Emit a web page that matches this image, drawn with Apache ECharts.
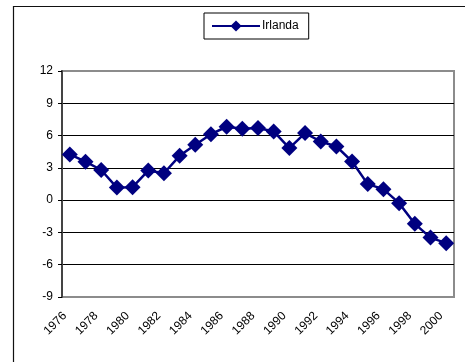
<!DOCTYPE html>
<html>
<head>
<meta charset="utf-8">
<script src="https://cdn.jsdelivr.net/npm/echarts@6/dist/echarts.min.js"></script>
<style>
  html, body { margin: 0; padding: 0; background: #fff; }
  #chart { width: 465px; height: 362px; }
</style>
</head>
<body>
<div id="chart"></div>
<script>
// Annual series for Ireland, 1976–2000
const years = ['1976','1977','1978','1979','1980','1981','1982','1983','1984','1985',
  '1986','1987','1988','1989','1990','1991','1992','1993','1994','1995',
  '1996','1997','1998','1999','2000'];
const irlanda = [4.25, 3.57, 2.8, 1.17, 1.2, 2.75, 2.5, 4.12, 5.14, 6.13,
  6.82, 6.63, 6.7, 6.38, 4.84, 6.23, 5.45, 4.99, 3.59, 1.49,
  1.02, -0.28, -2.2, -3.48, -4.0];
const seriesName = 'Irlanda';
const yMin = -9, yMax = 12, yStep = 3;

const chart = echarts.init(document.getElementById('chart'), null, { renderer: 'canvas' });
const font = 'Arial, "Liberation Sans", sans-serif';
const navy = '#000080';

chart.setOption({
  animation: false,
  backgroundColor: '#fff',
  graphic: [{
    type: 'rect',
    shape: { x: 13.5, y: 6.5, width: 600, height: 600 },
    style: { fill: 'none', stroke: '#111', lineWidth: 1.2 },
    silent: true,
    z: 0
  }],
  legend: {
    left: 204,
    top: 13,
    orient: 'horizontal',
    data: [seriesName],
    itemWidth: 48,
    itemHeight: 14,
    itemGap: 5,
    padding: [7, 10, 7, 7],
    borderColor: '#000',
    borderWidth: 1,
    backgroundColor: '#fff',
    textStyle: { fontFamily: font, fontSize: 12, color: '#000', padding: [0, 0, 0, -3] }
  },
  grid: {
    left: 62, top: 71, right: 11, bottom: 65,
    show: true,
    borderColor: '#8c8c8c',
    borderWidth: 2,
    backgroundColor: '#fff',
    containLabel: false
  },
  xAxis: {
    type: 'category',
    data: years,
    boundaryGap: true,
    axisLine: { show: false },
    axisTick: { show: false },
    axisLabel: {
      interval: 1,
      rotate: 45,
      margin: 12,
      padding: [0, 7, 0, 0],
      fontFamily: font,
      fontSize: 12,
      color: '#000'
    },
    splitLine: { show: false }
  },
  yAxis: {
    type: 'value',
    min: yMin,
    max: yMax,
    interval: yStep,
    axisLine: { show: true, lineStyle: { color: '#444', width: 2 } },
    axisTick: { show: true, length: 4, lineStyle: { color: '#000', width: 1 } },
    axisLabel: { margin: 9, fontFamily: font, fontSize: 12, color: '#000' },
    splitLine: {
      show: true,
      lineStyle: {
        color: ['transparent', '#000', '#000', '#000', '#000', '#000', '#000', 'transparent'],
        width: 1
      }
    }
  },
  series: [{
    name: seriesName,
    type: 'line',
    data: irlanda,
    symbol: 'diamond',
    symbolSize: 16,
    showAllSymbol: true,
    lineStyle: { color: navy, width: 2.5 },
    itemStyle: { color: navy, borderColor: navy, borderWidth: 0 },
    z: 3
  }]
});
</script>
</body>
</html>
